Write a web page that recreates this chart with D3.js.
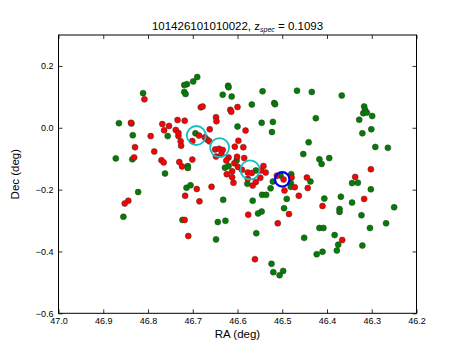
<!DOCTYPE html>
<html>
<head>
<meta charset="utf-8">
<script src="https://cdn.jsdelivr.net/npm/d3@7"></script>
<style>
  body { margin: 0; background: #fff; }
  svg { font-family: "Liberation Sans", Arial, sans-serif; }
  .axis text { font-size: 9px; fill: #000; }
  .axis .domain { stroke: none; }
  .axis .tick line { stroke: #000; stroke-width: 0.8; }
</style>
</head>
<body>
<svg id="chart" width="463" height="348"></svg>
<script>
// green = other galaxies, red = members (RA, Dec in deg)
var greenRA = [46.811,46.865,46.837,46.834,46.756,46.872,46.835,46.762,46.690,46.699,46.713,46.719,46.719,46.716,46.621,46.620,46.633,46.613,46.544,46.467,46.434,46.367,46.568,46.518,46.516,46.317,46.315,46.319,46.311,46.299,46.425,46.328,46.546,46.521,46.600,46.301,46.523,46.321,46.694,46.441,46.292,46.264,46.453,46.417,46.412,46.395,46.602,46.620,46.628,46.711,46.711,46.559,46.504,46.480,46.521,46.481,46.481,46.526,46.437,46.578,46.566,46.545,46.536,46.490,46.496,46.546,46.554,46.558,46.524,46.520,46.506,46.498,46.714,46.705,46.632,46.723,46.644,46.627,46.648,46.822,46.855,46.344,46.331,46.302,46.369,46.344,46.406,46.372,46.372,46.323,46.250,46.268,46.304,46.417,46.408,46.451,46.383,46.375,46.378,46.321,46.410,46.423];
var greenDec = [0.112,0.015,0.014,-0.024,-0.027,-0.099,-0.102,-0.148,0.164,0.150,0.141,0.138,0.116,0.109,0.136,0.131,0.107,0.101,0.118,0.120,0.116,0.104,0.075,0.080,0.076,0.069,0.058,0.047,0.049,0.038,0.031,0.026,0.016,0.019,0.004,-0.005,-0.014,-0.018,-0.018,-0.047,-0.062,-0.065,-0.085,-0.102,-0.117,-0.098,-0.106,-0.124,-0.129,-0.124,-0.130,-0.138,-0.154,-0.150,-0.174,-0.179,-0.191,-0.196,-0.174,-0.181,-0.236,-0.217,-0.217,-0.230,-0.260,-0.271,-0.277,-0.341,-0.440,-0.467,-0.477,-0.463,-0.194,-0.186,-0.233,-0.298,-0.305,-0.301,-0.361,-0.208,-0.288,-0.179,-0.178,-0.199,-0.223,-0.242,-0.229,-0.263,-0.272,-0.283,-0.257,-0.309,-0.324,-0.324,-0.324,-0.356,-0.347,-0.378,-0.397,-0.381,-0.401,-0.409];

var redRA = [46.808,46.838,46.768,46.734,46.764,46.753,46.738,46.794,46.732,46.829,46.786,46.831,46.770,46.765,46.730,46.724,46.701,46.732,46.727,46.726,46.718,46.682,46.678,46.616,46.614,46.600,46.648,46.647,46.582,46.662,46.686,46.701,46.673,46.668,46.663,46.650,46.641,46.633,46.636,46.648,46.598,46.606,46.587,46.620,46.601,46.585,46.625,46.607,46.612,46.624,46.612,46.599,46.590,46.577,46.568,46.547,46.542,46.537,46.577,46.549,46.512,46.497,46.479,46.609,46.566,46.559,46.495,46.472,46.463,46.445,46.443,46.485,46.510,46.576,46.561,46.337,46.302,46.317,46.410,46.366,46.691,46.717,46.685,46.658,46.718,46.710,46.844,46.852];
var redDec = [0.092,0.016,0.012,0.025,-0.008,0.006,-0.007,-0.027,-0.027,-0.063,-0.077,-0.096,-0.105,-0.112,-0.111,-0.125,-0.103,-0.017,-0.044,-0.058,0.023,0.066,0.069,0.058,0.052,0.067,0.034,0.021,-0.009,-0.005,-0.025,-0.043,-0.031,-0.038,-0.044,-0.070,-0.068,-0.072,-0.086,-0.093,-0.042,-0.061,-0.063,-0.096,-0.094,-0.098,-0.106,-0.115,-0.141,-0.150,-0.160,-0.127,-0.136,-0.145,-0.146,-0.138,-0.124,-0.145,-0.165,-0.162,-0.155,-0.167,-0.161,-0.178,-0.187,-0.175,-0.203,-0.192,-0.220,-0.161,-0.195,-0.279,-0.309,-0.281,-0.425,-0.159,-0.134,-0.230,-0.253,-0.363,-0.198,-0.220,-0.238,-0.191,-0.298,-0.350,-0.236,-0.245];

// highlighted positions
var cyanRA = [46.692, 46.640, 46.572];
var cyanDec = [-0.025, -0.064, -0.136];
var blueRA = [46.500];
var blueDec = [-0.167];

var xTicks = [47.0, 46.9, 46.8, 46.7, 46.6, 46.5, 46.4, 46.3, 46.2];
var yTicks = [0.2, 0.0, -0.2, -0.4, -0.6];

var svg = d3.select("#chart"),
    margin = {top: 35, right: 46.5, bottom: 34.7, left: 58.5},
    width = 463 - margin.left - margin.right,
    height = 348 - margin.top - margin.bottom,
    g = svg.append("g").attr("transform", "translate(" + margin.left + "," + margin.top + ")");

var x = d3.scaleLinear().domain([47.0, 46.2]).range([0, width]),
    y = d3.scaleLinear().domain([-0.6, 0.3]).range([height, 0]);

var fmt = d3.format(".1f");
var minus = function(d) { return fmt(d).replace("-", "\u2212"); };

// axes, ticks pointing inward on all four sides
g.append("g").attr("class", "axis")
    .attr("transform", "translate(0," + height + ")")
    .call(d3.axisBottom(x).tickValues(xTicks).tickFormat(fmt).tickSizeInner(-4).tickSizeOuter(0).tickPadding(4));
g.append("g").attr("class", "axis")
    .call(d3.axisTop(x).tickValues(xTicks).tickFormat("").tickSizeInner(-4).tickSizeOuter(0));
g.append("g").attr("class", "axis")
    .call(d3.axisLeft(y).tickValues(yTicks).tickFormat(minus).tickSizeInner(-4).tickSizeOuter(0).tickPadding(5));
g.append("g").attr("class", "axis")
    .attr("transform", "translate(" + width + ",0)")
    .call(d3.axisRight(y).tickValues(yTicks).tickFormat("").tickSizeInner(-4).tickSizeOuter(0));

var greens = greenRA.map(function(d, i) { return {ra: d, dec: greenDec[i]}; });
var reds = redRA.map(function(d, i) { return {ra: d, dec: redDec[i]}; });

g.selectAll(".green")
    .data(greens)
  .enter().append("circle")
    .attr("class", "green")
    .attr("r", 3)
    .attr("cx", function(d) { return x(d.ra); })
    .attr("cy", function(d) { return y(d.dec); })
    .attr("fill", "#007f00")
    .attr("stroke", "#333")
    .attr("stroke-width", 0.5);

g.selectAll(".red")
    .data(reds)
  .enter().append("circle")
    .attr("class", "red")
    .attr("r", 3)
    .attr("cx", function(d) { return x(d.ra); })
    .attr("cy", function(d) { return y(d.dec); })
    .attr("fill", "#ff0000")
    .attr("stroke", "#333")
    .attr("stroke-width", 0.5);

g.selectAll(".cyan")
    .data(cyanRA)
  .enter().append("circle")
    .attr("class", "cyan")
    .attr("r", 9.5)
    .attr("cx", function(d) { return x(d); })
    .attr("cy", function(d, i) { return y(cyanDec[i]); })
    .attr("fill", "none")
    .attr("stroke", "#14c0c4")
    .attr("stroke-width", 1.8);

g.selectAll(".blue")
    .data(blueRA)
  .enter().append("circle")
    .attr("class", "blue")
    .attr("r", 7.2)
    .attr("cx", function(d) { return x(d); })
    .attr("cy", function(d, i) { return y(blueDec[i]); })
    .attr("fill", "none")
    .attr("stroke", "#0000ee")
    .attr("stroke-width", 2.2);

// frame
g.append("rect")
    .attr("width", width)
    .attr("height", height)
    .attr("fill", "none")
    .attr("stroke", "#000")
    .attr("stroke-width", 1);

// labels
var title = svg.append("text")
    .attr("x", margin.left + width / 2)
    .attr("y", 29.5)
    .attr("text-anchor", "middle")
    .style("font-size", "11.5px");
title.append("tspan").text("101426101010022, z");
title.append("tspan").attr("dy", 2.5).style("font-size", "7px").style("font-style", "italic").text("spec");
title.append("tspan").attr("dy", -2.5).text(" = 0.1093");

svg.append("text")
    .attr("x", margin.left + width / 2)
    .attr("y", 338)
    .attr("text-anchor", "middle")
    .style("font-size", "11.5px")
    .text("RA (deg)");

svg.append("text")
    .attr("transform", "translate(19," + (margin.top + height / 2) + ") rotate(-90)")
    .attr("text-anchor", "middle")
    .style("font-size", "11.5px")
    .text("Dec (deg)");
</script>
</body>
</html>
